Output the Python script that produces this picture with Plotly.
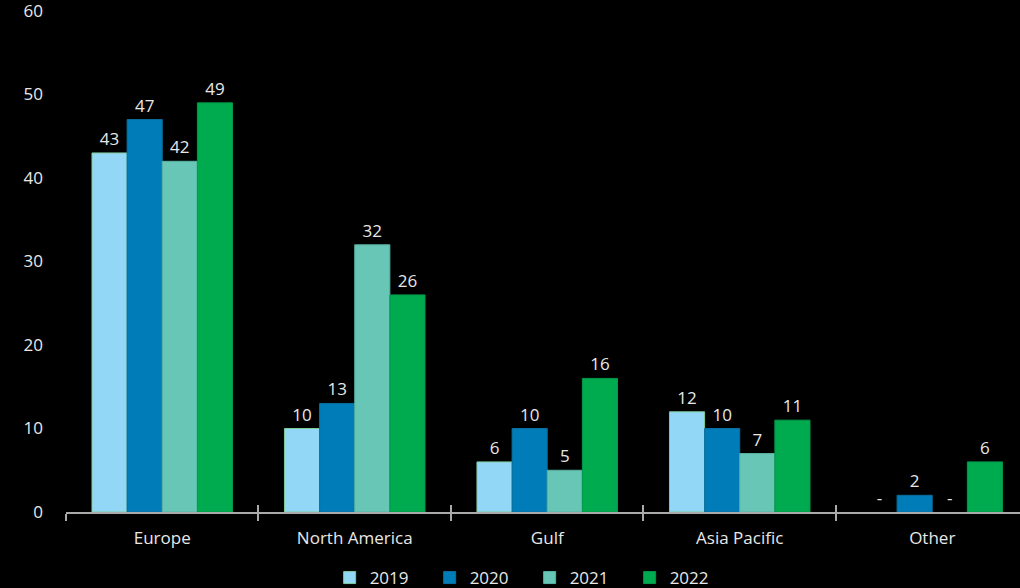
import plotly.graph_objects as go

regions = ["Europe", "North America", "Gulf", "Asia Pacific", "Other"]
years = ["2019", "2020", "2021", "2022"]
values = {
    "2019": [43, 10, 6, 12, 0],
    "2020": [47, 13, 10, 10, 2],
    "2021": [42, 32, 5, 7, 0],
    "2022": [49, 26, 16, 11, 6],
}
labels = {
    "2019": ["43", "10", "6", "12", "-"],
    "2020": ["47", "13", "10", "10", "2"],
    "2021": ["42", "32", "5", "7", "-"],
    "2022": ["49", "26", "16", "11", "6"],
}
colors = {"2019": "#92d8f6", "2020": "#007cb8", "2021": "#67c6b6", "2022": "#00aa4f"}
lines = {"2019": "#7fc99a", "2020": "#0a6f9e", "2021": "#5ab3a3", "2022": "#00994a"}

txt = "#e8e8e8"
font = "Open Sans, Noto Sans, sans-serif"
fs = 17

fig = go.Figure()
for y in years:
    fig.add_trace(go.Bar(
        name=y, x=regions, y=values[y], text=labels[y],
        textposition="outside", cliponaxis=False,
        textfont=dict(color=txt, size=fs, family=font),
        marker=dict(color=colors[y],
                    line=dict(color=lines[y], width=[1 if v else 0 for v in values[y]])),
    ))
# helper trace to show crossing ticks on an overlay axis
fig.add_trace(go.Bar(x=regions, y=[0]*5, xaxis="x2", showlegend=False,
                     hoverinfo="skip", marker=dict(color="rgba(0,0,0,0)", line=dict(width=0))))

fig.update_layout(
    width=1020, height=588,
    paper_bgcolor="black", plot_bgcolor="black",
    font=dict(family=font, size=fs, color=txt),
    margin=dict(l=66, r=0, t=8, b=76, autoexpand=False),
    barmode="group", bargap=0.27, bargroupgap=0,
    showlegend=True,
    legend=dict(orientation="h", x=0.486, xanchor="center",
                yref="container", y=0.017, yanchor="middle",
                font=dict(size=fs, color=txt), entrywidth=55, entrywidthmode="pixels",
                bgcolor="rgba(0,0,0,0)"),
    xaxis=dict(range=[-0.5, 4.456], showline=True, linecolor="#aaaaaa", linewidth=1.5,
               ticks="outside", ticklen=7, tickcolor="#aaaaaa", tickwidth=1.5,
               tickson="boundaries", showgrid=False, zeroline=False,
               ticklabelstandoff=10, tickfont=dict(size=fs, color=txt)),
    xaxis2=dict(range=[-0.5, 4.456], overlaying="x", side="bottom", showline=False,
                ticks="inside", ticklen=7, tickcolor="#aaaaaa", tickwidth=1.5,
                tickson="boundaries", showticklabels=False, showgrid=False, zeroline=False),
    yaxis=dict(range=[0, 60.36], tickvals=[0, 10, 20, 30, 40, 50, 60], showgrid=False,
               zeroline=False, showline=False, ticklabelstandoff=22,
               ticklabeloverflow="allow", tickfont=dict(size=fs, color=txt)),
)

fig.write_html("out.html", config={"displayModeBar": False},
               post_script="document.body.style.margin='0';")
